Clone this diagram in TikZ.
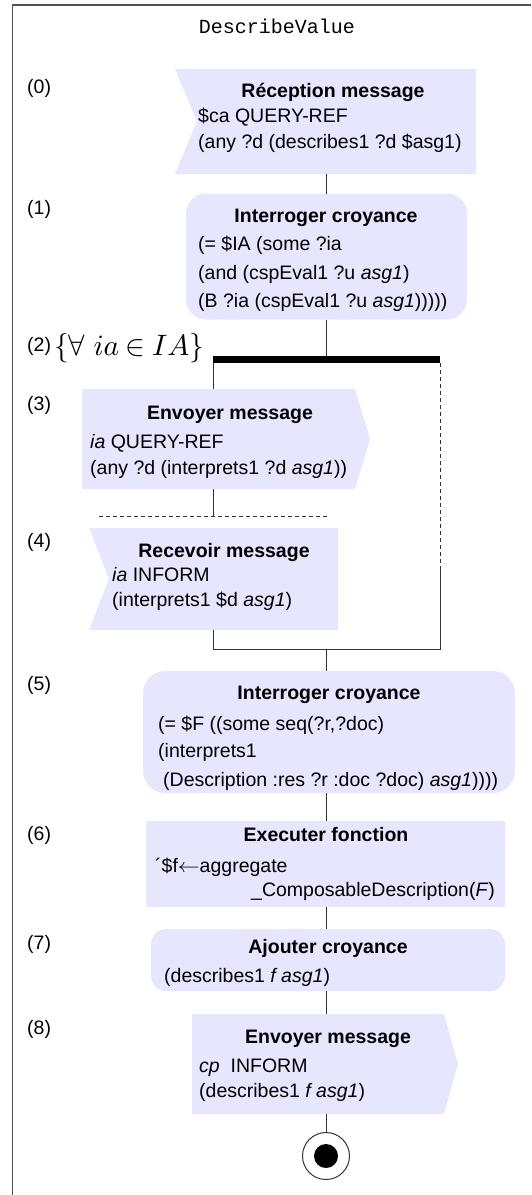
\documentclass[tikz,border=0pt]{standalone}
\usepackage{graphicx}
\usepackage{fontspec}
\setmainfont{Liberation Sans}
\newfontfamily\monof{Liberation Mono}
\usetikzlibrary{calc}
\pgfdeclarelayer{bg}
\pgfsetlayers{bg,main}
\definecolor{boxfill}{RGB}{230,230,255}
\definecolor{linec}{RGB}{51,51,51}
\definecolor{framec}{RGB}{80,80,80}
\begin{document}
\begin{tikzpicture}[x=1pt,y=-1pt,
  shp/.style={inner sep=0pt, outer sep=0pt, rectangle},
  rbox/.style={shp, fill=boxfill, rounded corners=#1},
  txt/.style={inner sep=0pt, anchor=base west, font=\fontsize{19.5}{23}\selectfont},
  ttl/.style={inner sep=0pt, anchor=base, font=\fontsize{19.5}{23}\selectfont\bfseries},
  num/.style={inner sep=0pt, anchor=base west, font=\fontsize{19.5}{23}\selectfont},
  conn/.style={draw=linec, line width=1pt},
  dconn/.style={conn, dash pattern=on 4pt off 3pt},
]
\useasboundingbox (0,0) rectangle (531,1195);

% frame
\coordinate (frTR) at (531,5);
\coordinate (frTL) at (12.5,5);
\coordinate (frBL) at (12.5,1195);
\draw[framec, line width=1.5pt] (frTR) -- (frTL) -- (frBL);

\node[inner sep=0pt, anchor=base, font=\monof\fontsize{20}{24}\selectfont] (title) at (277,33) {DescribeValue};

% step numbers
\node[num] (n0) at (27,93) {(0)};
\node[num] (n1) at (27,214) {(1)};
\node[num] (n2) at (27,351) {(2)};
\node[num] (n3) at (27,410) {(3)};
\node[num] (n4) at (27,547) {(4)};
\node[num] (n5) at (27,690) {(5)};
\node[num] (n6) at (27,840) {(6)};
\node[num] (n7) at (27,949) {(7)};
\node[num] (n8) at (27,1034) {(8)};
\node[inner sep=0pt, anchor=base west] (cond) at (54,355) {\scalebox{2.95}{$\{\forall\ ia\mathbin{\in}IA\}$}};

% boxes
\node[shp, minimum width=301pt, minimum height=105pt] (b0) at (325.5,121.5) {};
\node[rbox=20pt, minimum width=281pt, minimum height=126pt] (b1) at (326.5,256.5) {};
\node[shp, fill=black, minimum width=227pt, minimum height=7pt] (fork) at (326.5,359.5) {};
\node[shp, minimum width=273pt, minimum height=100pt] (b3) at (218.5,439) {};
\node[shp, minimum width=249pt, minimum height=102pt] (b4) at (213.5,579) {};
\node[rbox=22pt, minimum width=372pt, minimum height=122pt] (b5) at (329,732) {};
\node[shp, fill=boxfill, minimum width=359pt, minimum height=86pt] (b6) at (325.5,864) {};
\node[rbox=15pt, minimum width=354pt, minimum height=62pt] (b7) at (328,960) {};
\node[shp, minimum width=252pt, minimum height=100pt] (b8) at (318,1064) {};
\node[circle, draw=linec, line width=1pt, fill=white, minimum size=47pt, inner sep=0pt] (endc) at (326,1156) {};
\node[circle, fill=black, minimum size=24pt, inner sep=0pt] (endd) at (endc.center) {};

\begin{pgfonlayer}{bg}
\fill[boxfill] (b0.north west) -- (b0.north east) -- (b0.south east) -- (b0.south west) -- ($(b0.west)+(22,0)$) -- cycle;
\fill[boxfill] (b3.north west) -- (b3.north east) -- ($(b3.east)+(15,0)$) -- (b3.south east) -- (b3.south west) -- cycle;
\fill[boxfill] (b4.north west) -- (b4.north east) -- (b4.south east) -- (b4.south west) -- ($(b4.west)+(20,0)$) -- cycle;
\fill[boxfill] (b8.north west) -- (b8.north east) -- ($(b8.east)+(14,0)$) -- (b8.south east) -- (b8.south west) -- cycle;
\end{pgfonlayer}

% texts
\node[ttl] (t0) at (333,97) {Réception message};
\node[txt] (t0a) at (198,122) {\$ca QUERY-REF};
\node[txt] (t0b) at (198,148) {(any ?d (describes1 ?d \$asg1)};

\node[ttl] (t1) at (326,222.5) {Interroger croyance};
\node[txt] (t1a) at (198,250) {(= \$IA (some ?ia};
\node[txt] (t1b) at (198,279) {(and (cspEval1 ?u \textit{asg1})};
\node[txt] (t1c) at (198,307) {(B ?ia (cspEval1 ?u \textit{asg1})))))};

\node[ttl] (t3) at (230,419) {Envoyer message};
\node[txt] (t3a) at (90,448) {\textit{ia} QUERY-REF};
\node[txt] (t3b) at (90,474) {(any ?d (interprets1 ?d \textit{asg1}))};

\node[ttl] (t4) at (224,557) {Recevoir message};
\node[txt] (t4a) at (112,581) {\textit{ia} INFORM};
\node[txt] (t4b) at (112,606) {(interprets1 \$d \textit{asg1})};

\node[ttl] (t5) at (329,699) {Interroger croyance};
\node[txt] (t5a) at (158,730) {(= \$F ((some seq(?r,?doc)};
\node[txt] (t5b) at (158,757) {(interprets1};
\node[txt] (t5c) at (163,786) {(Description :res ?r :doc ?doc) \textit{asg1}))))};

\node[ttl] (t6) at (326,841) {Executer fonction};
\node[txt] (t6a) at (155,872) {´\$f\scalebox{1.05}[0.95]{$\leftarrow$}aggregate};
\node[txt] (t6b) at (251,896) {\_ComposableDescription(\textit{F})};

\node[ttl] (t7) at (328,953) {Ajouter croyance};
\node[txt] (t7a) at (164,982) {(describes1 \textit{f asg1})};

\node[ttl] (t8) at (328,1043) {Envoyer message};
\node[txt] (t8a) at (199,1072) {\textit{cp}~~INFORM};
\node[txt] (t8b) at (199,1097) {(describes1 \textit{f asg1})};

% connectors
\coordinate (sepL) at (99,516);
\coordinate (sepR) at (327,516);
\coordinate (joinL) at (213,649);
\coordinate (joinR) at (440,649);
\coordinate (turn) at (440,570);
\coordinate (joinC) at (326,649);

\draw[conn] (b0.south -| endc) -- (b1.north -| endc);
\draw[conn] (b1.south -| endc) -- (fork.north -| endc);
\draw[conn] (fork.south west) -- (b3.north -| fork.south west);
\draw[conn] (b3.south -| fork.south west) -- (sepL -| fork.south west);
\draw[dconn] (sepL) -- (sepR);
\draw[conn] (b4.south -| fork.south west) -- (joinL) -- (joinR) -- (turn);
\draw[dconn] (turn) -- (fork.south east);
\draw[conn] (joinC) -- (b5.north -| endc);
\draw[conn] (b5.south -| endc) -- (b6.north -| endc);
\draw[conn] (b6.south -| endc) -- (b7.north -| endc);
\draw[conn] (b7.south -| endc) -- (b8.north -| endc);
\draw[conn] (b8.south -| endc) -- (endc.north);
\end{tikzpicture}
\end{document}
